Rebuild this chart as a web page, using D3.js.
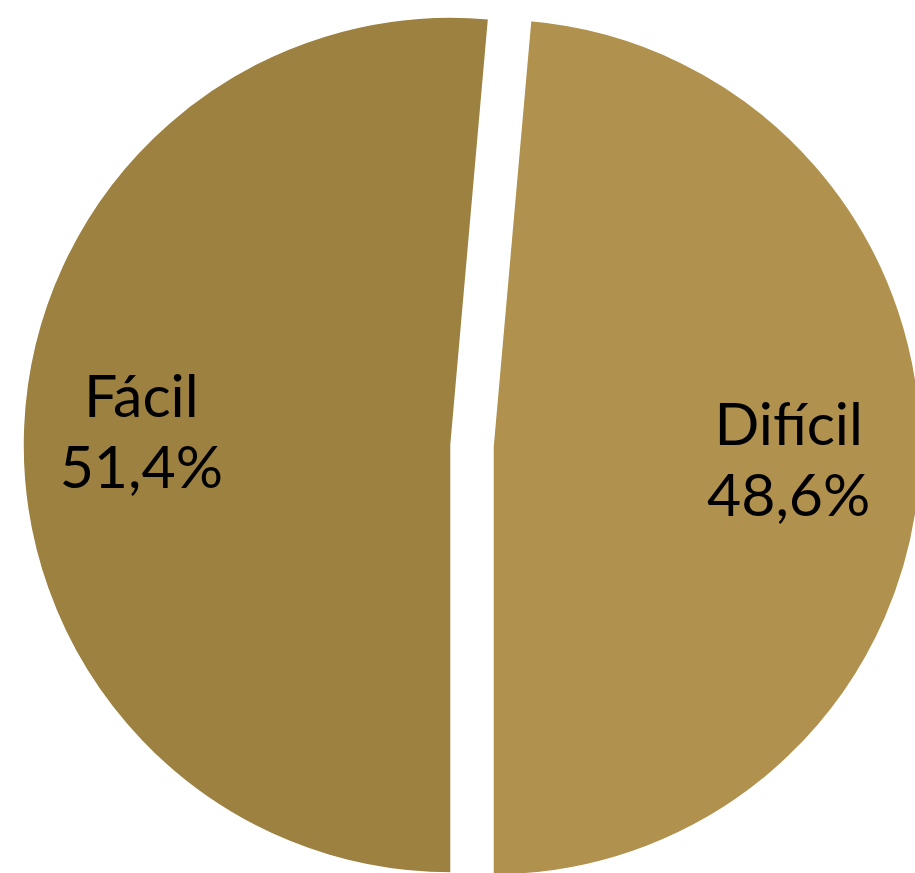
<!DOCTYPE html>
<html>
<head>
<meta charset="utf-8">
<script src="https://cdn.jsdelivr.net/npm/d3@7"></script>
<style>
  html, body { margin: 0; padding: 0; background: #ffffff; }
  svg { display: block; }
</style>
</head>
<body>
<svg id="chart" width="915" height="873"></svg>
<script>
// Data
const categories = ["Fácil", "Difícil"];
const values = [51.4, 48.6];
const labels = ["51,4%", "48,6%"];
const colors = ["#9c8141", "#b0914e"];

const W = 915, H = 873;
const cx = 472, cy = 446, R = 428, explode = 21, labelR = 303, labelShiftX = -7;

const svg = d3.select("#chart");
const data = categories.map((c, i) => ({ category: c, value: values[i], label: labels[i], color: colors[i] }));

const pie = d3.pie().value(d => d.value).sort(null)
  .startAngle(Math.PI).endAngle(3 * Math.PI);
const arcs = pie(data);

const arc = d3.arc().innerRadius(0).outerRadius(R);
const labelArc = d3.arc().innerRadius(labelR).outerRadius(labelR);

const g = svg.append("g").attr("transform", `translate(${cx},${cy})`);

const slices = g.selectAll("g.slice").data(arcs).enter().append("g")
  .attr("class", "slice")
  .attr("transform", d => {
    const a = (d.startAngle + d.endAngle) / 2;
    return `translate(${explode * Math.sin(a)},${-explode * Math.cos(a)})`;
  });

slices.append("path")
  .attr("d", arc)
  .attr("fill", d => d.data.color)
  .attr("stroke", "#ffffff")
  .attr("stroke-width", 1.5);

const txt = slices.append("text")
  .attr("text-anchor", "middle")
  .attr("font-family", "Lato, 'Open Sans', sans-serif")
  .attr("font-size", 59)
  .attr("fill", "#000000")
  .attr("transform", d => {
    const [x, y] = labelArc.centroid(d);
    return `translate(${x + labelShiftX},${y})`;
  });

txt.append("tspan").attr("x", 0).attr("y", -15).text(d => d.data.category);
txt.append("tspan").attr("x", 0).attr("y", 56).text(d => d.data.label);
</script>
</body>
</html>
